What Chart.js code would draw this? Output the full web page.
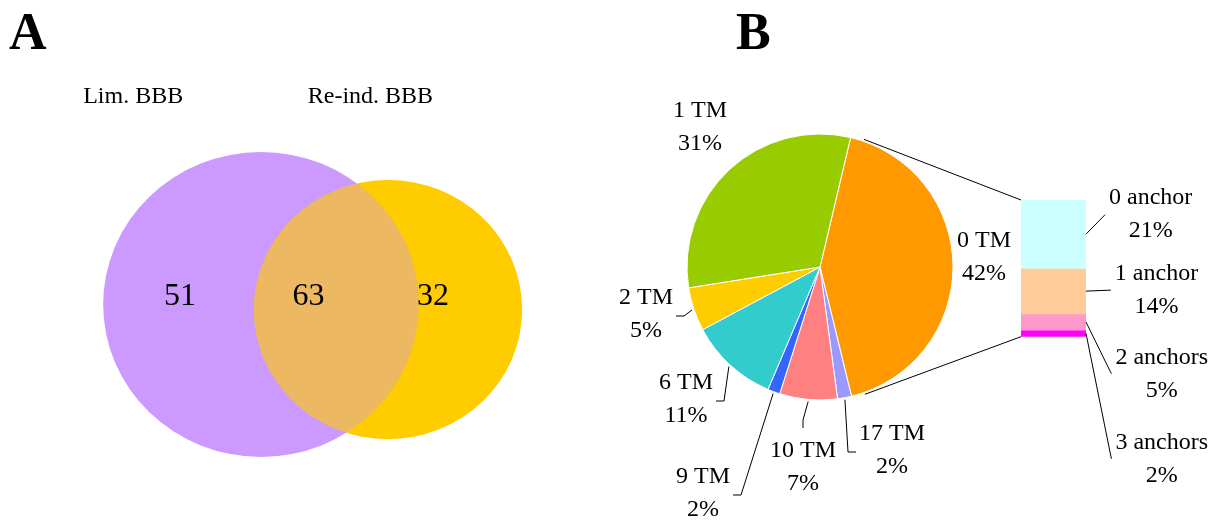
<!DOCTYPE html>
<html>
<head>
<meta charset="utf-8">
<script src="https://cdn.jsdelivr.net/npm/chart.js@4.4.1/dist/chart.umd.min.js"></script>
<style>
  body { margin: 0; background: #fff; }
  #wrap { position: relative; width: 1219px; height: 522px; overflow: hidden; }
  canvas { position: absolute; top: 0; }
</style>
</head>
<body>
<div id="wrap">
  <canvas id="venn" width="600" height="522" style="left:0"></canvas>
  <canvas id="pie" width="659" height="522" style="left:560px"></canvas>
  <canvas id="bar" width="659" height="522" style="left:560px"></canvas>
</div>
<script>
// A: venn of the two BBB sets
const vennSets = ["Lim. BBB", "Re-ind. BBB"];
const vennCounts = [51, 63, 32]; // Lim only, both, Re-ind only

// B: pie of TM classes, clockwise from 0 TM
const tmLabels = ["0 TM", "17 TM", "10 TM", "9 TM", "6 TM", "2 TM", "1 TM"];
const tmValues = [42.5, 1.7, 7.0, 1.5, 10.8, 5.3, 31.2];
const tmPct = ["42%", "2%", "7%", "2%", "11%", "5%", "31%"];

// split of the 0 TM slice
const anchorLabels = ["0 anchor", "1 anchor", "2 anchors", "3 anchors"];
const anchorValues = [21, 14, 5, 2];
const anchorPct = ["21%", "14%", "5%", "2%"];

// styling / layout
const FONT = '"Liberation Serif", "Times New Roman", serif';
const LINE = 33;
const vennColors = ["#CC99FF", "#FFCC00"];
const vennCircles = [{x: 0, y: 0, r: 1}, {x: 0.804, y: -0.033, r: 0.85}];
const vennCountPos = [[-0.513, 0.05], [0.30, 0.05], [1.09, 0.05]];
const vennNamePos = [[-0.81, 1.36], [0.693, 1.36]];
const tmColors = ["#FF9900", "#9999FF", "#FF8080", "#3366FF", "#33CCCC", "#FFCC00", "#99CC00"];
const pieLabelPos = [[164, -10], [72, 183], [-17, 200], [-117, 226], [-134, 132], [-174, 47], [-120, -140]];
const pieLeader = [null, "left", "top", "right", "right", "right", null];
const anchorColors = ["#CCFFFF", "#FFCC99", "#FF99CC", "#FF00FF"];
const anchorLabelPos = [[64.7, -19.5], [70.5, -1], [75.7, 51.7], [75.7, 125.3]];

function twoLines(ctx, a, b, x, y) {
  ctx.fillText(a, x, y - LINE / 2);
  ctx.fillText(b, x, y + LINE / 2);
  return Math.max(ctx.measureText(a).width, ctx.measureText(b).width);
}

const vennPlugin = {
  id: "venn",
  beforeDatasetsDraw(chart) {
    const {ctx, scales: {x, y}} = chart;
    const ell = (c) => {
      ctx.beginPath();
      ctx.ellipse(x.getPixelForValue(c.x), y.getPixelForValue(c.y),
        Math.abs(x.getPixelForValue(c.r) - x.getPixelForValue(0)),
        Math.abs(y.getPixelForValue(c.r) - y.getPixelForValue(0)), 0, 0, 2 * Math.PI);
    };
    ctx.save();
    ell(vennCircles[0]); ctx.fillStyle = vennColors[0]; ctx.fill();
    ell(vennCircles[1]); ctx.fillStyle = vennColors[1]; ctx.fill();
    // overlap: purple showing through
    ell(vennCircles[1]); ctx.clip();
    ell(vennCircles[0]); ctx.globalAlpha = 0.38; ctx.fillStyle = vennColors[0]; ctx.fill();
    ctx.restore();
  },
  afterDatasetsDraw(chart) {
    const {ctx, scales: {x, y}} = chart;
    ctx.save();
    ctx.fillStyle = "#000";
    ctx.font = "bold 52px " + FONT;
    ctx.textAlign = "left"; ctx.textBaseline = "alphabetic";
    ctx.fillText("A", 9, 49);
    ctx.textAlign = "center"; ctx.textBaseline = "middle";
    ctx.font = "24px " + FONT;
    vennSets.forEach((s, i) => {
      ctx.fillText(s, x.getPixelForValue(vennNamePos[i][0]), y.getPixelForValue(vennNamePos[i][1]));
    });
    ctx.font = "32px " + FONT;
    chart.getDatasetMeta(0).data.forEach((pt, i) => {
      ctx.fillText(String(vennCounts[i]), pt.x, pt.y);
    });
    ctx.restore();
  }
};

new Chart(document.getElementById("venn"), {
  type: "scatter",
  data: {
    datasets: [{
      data: vennCountPos.map(p => ({x: p[0], y: p[1]})),
      pointRadius: 0
    }]
  },
  options: {
    responsive: false,
    animation: false,
    layout: {padding: {left: 40, right: 39, top: 60.5, bottom: 19.25}},
    scales: {
      x: {type: "linear", min: -1.4, max: 1.9, display: false},
      y: {type: "linear", min: -1.3, max: 1.6, display: false}
    },
    plugins: {legend: {display: false}, tooltip: {enabled: false}}
  },
  plugins: [vennPlugin]
});

const pieLabels = {
  id: "pieLabels",
  afterDatasetsDraw(chart) {
    const ctx = chart.ctx;
    ctx.save();
    ctx.fillStyle = "#000"; ctx.strokeStyle = "#000"; ctx.lineWidth = 1;
    ctx.font = "bold 52px " + FONT;
    ctx.textAlign = "left"; ctx.textBaseline = "alphabetic";
    ctx.fillText("B", 176, 49);
    ctx.font = "24px " + FONT;
    ctx.textAlign = "center"; ctx.textBaseline = "middle";
    chart.getDatasetMeta(0).data.forEach((arc, i) => {
      const {x, y, startAngle, endAngle, outerRadius} =
        arc.getProps(["x", "y", "startAngle", "endAngle", "outerRadius"], true);
      const lx = x + pieLabelPos[i][0], ly = y + pieLabelPos[i][1];
      const w = twoLines(ctx, tmLabels[i], tmPct[i], lx, ly);
      const side = pieLeader[i];
      if (!side) return;
      const mid = (startAngle + endAngle) / 2;
      const px = x + Math.cos(mid) * (outerRadius + 2);
      const py = y + Math.sin(mid) * (outerRadius + 2);
      let ex, ey, sx, sy;
      if (side === "right") { ex = lx + w / 2 + 3; ey = ly + 2; sx = ex + 8; sy = ey; }
      else if (side === "left") { ex = lx - w / 2 - 3; ey = ly + 2; sx = ex - 8; sy = ey; }
      else { ex = lx; ey = ly - LINE - 6; sx = ex; sy = ey - 8; }
      ctx.beginPath(); ctx.moveTo(px, py); ctx.lineTo(sx, sy); ctx.lineTo(ex, ey); ctx.stroke();
    });
    ctx.restore();
  }
};

const pieChart = new Chart(document.getElementById("pie"), {
  type: "pie",
  data: {
    labels: tmLabels,
    datasets: [{data: tmValues, backgroundColor: tmColors, borderColor: "#fff", borderWidth: 1}]
  },
  options: {
    responsive: false,
    animation: false,
    rotation: 13.3,
    radius: 133,
    layout: {padding: {left: 100, right: 239, top: 100, bottom: 88}},
    plugins: {legend: {display: false}, tooltip: {enabled: false}}
  },
  plugins: [pieLabels]
});

const barLabels = {
  id: "barLabels",
  afterDatasetsDraw(chart) {
    const ctx = chart.ctx;
    ctx.save();
    ctx.fillStyle = "#000"; ctx.strokeStyle = "#000"; ctx.lineWidth = 1;
    ctx.font = "24px " + FONT;
    ctx.textAlign = "center"; ctx.textBaseline = "middle";
    let top = Infinity, bottom = -Infinity, left = 0;
    anchorLabels.forEach((name, i) => {
      const bar = chart.getDatasetMeta(i).data[0];
      const {x, y, base, width} = bar.getProps(["x", "y", "base", "width"], true);
      const y0 = Math.min(y, base), y1 = Math.max(y, base);
      top = Math.min(top, y0); bottom = Math.max(bottom, y1); left = x - width / 2;
      const rx = x + width / 2, my = (y0 + y1) / 2;
      const lx = rx + anchorLabelPos[i][0], ly = my + anchorLabelPos[i][1];
      const w = twoLines(ctx, name, anchorPct[i], lx, ly);
      ctx.beginPath(); ctx.moveTo(rx, my); ctx.lineTo(lx - w / 2 - 4, ly); ctx.stroke();
    });
    // lines from the 0 TM slice to the bar
    const arc = pieChart.getDatasetMeta(0).data[0];
    const {x, y, startAngle, endAngle, outerRadius} =
      arc.getProps(["x", "y", "startAngle", "endAngle", "outerRadius"], true);
    const a1 = startAngle + 0.1, a2 = endAngle - 0.1, rr = outerRadius + 2;
    ctx.beginPath();
    ctx.moveTo(x + Math.cos(a1) * rr, y + Math.sin(a1) * rr); ctx.lineTo(left, top);
    ctx.moveTo(x + Math.cos(a2) * rr, y + Math.sin(a2) * rr); ctx.lineTo(left, bottom);
    ctx.stroke();
    ctx.restore();
  }
};

new Chart(document.getElementById("bar"), {
  type: "bar",
  data: {
    labels: ["0 TM"],
    datasets: anchorLabels.map((name, i) => ({
      label: name,
      data: [anchorValues[i]],
      backgroundColor: anchorColors[i],
      borderWidth: 0,
      categoryPercentage: 1,
      barPercentage: 1
    }))
  },
  options: {
    responsive: false,
    animation: false,
    layout: {padding: {left: 461, right: 133, top: 200, bottom: 185.3}},
    scales: {
      x: {stacked: true, display: false},
      y: {stacked: true, reverse: true, min: 0, max: anchorValues.reduce((a, b) => a + b, 0), display: false}
    },
    plugins: {legend: {display: false}, tooltip: {enabled: false}}
  },
  plugins: [barLabels]
});
</script>
</body>
</html>
